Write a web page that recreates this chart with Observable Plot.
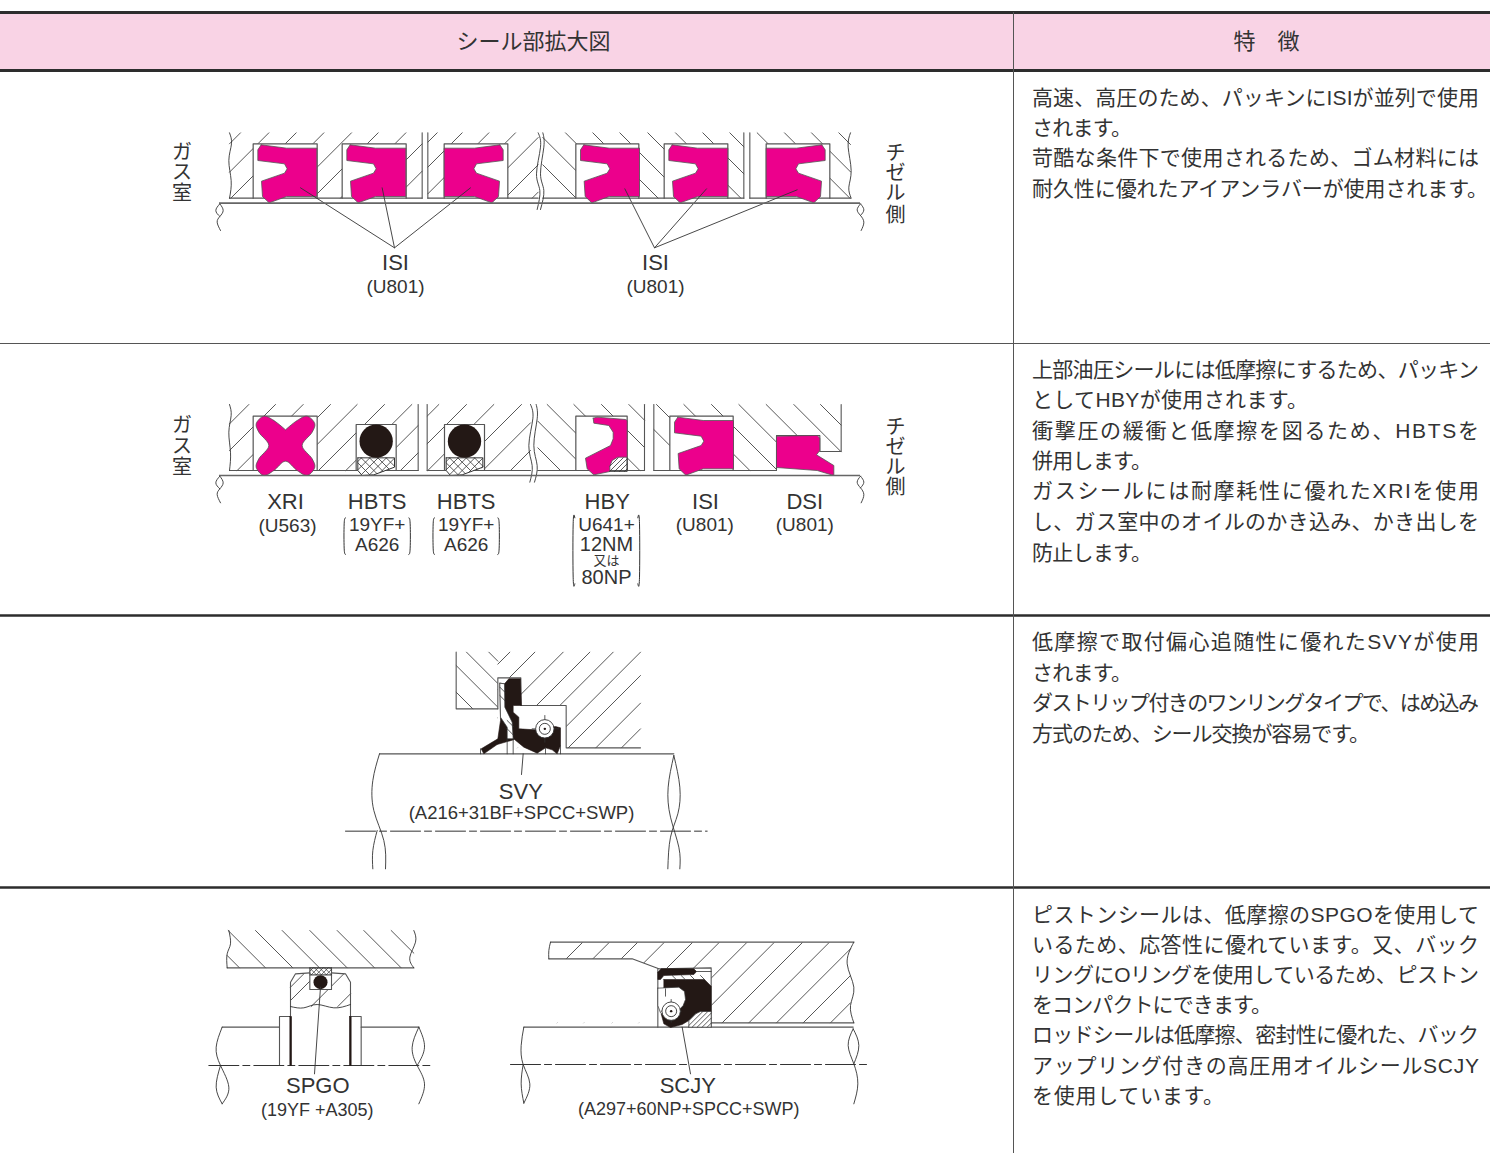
<!DOCTYPE html>
<html lang="ja">
<head>
<meta charset="utf-8">
<script src="https://cdn.jsdelivr.net/npm/d3@7"></script>
<script src="https://cdn.jsdelivr.net/npm/@observablehq/plot@0.6"></script>
<style>html,body{margin:0;padding:0;background:#fff}svg{display:block}</style>
</head>
<body>
<div id="chart"></div>
<script>
// Crop frames the drawing was read in: [left, top], units are 1/3 px
const Z1=[160,110],Z2=[530,110],Z3=[160,395],Z4=[530,395],Z5=[340,640],Z6=[200,920],Z7=[500,930],Z8=[440,670],Z9=[640,955];

const headerText=["シール部拡大図","特　徴"];
const headerX=[533,1266];

const featureLines=[
"高速、高圧のため、パッキンにISIが並列で使用","されます。","苛酷な条件下で使用されるため、ゴム材料には","耐久性に優れたアイアンラバーが使用されます。",
"上部油圧シールには低摩擦にするため、パッキン","としてHBYが使用されます。","衝撃圧の緩衝と低摩擦を図るため、HBTSを","併用します。","ガスシールには耐摩耗性に優れたXRIを使用","し、ガス室中のオイルのかき込み、かき出しを","防止します。",
"低摩擦で取付偏心追随性に優れたSVYが使用","されます。","ダストリップ付きのワンリングタイプで、はめ込み","方式のため、シール交換が容易です。",
"ピストンシールは、低摩擦のSPGOを使用して","いるため、応答性に優れています。又、バック","リングにOリングを使用しているため、ピストン","をコンパクトにできます。","ロッドシールは低摩擦、密封性に優れた、バック","アップリング付きの高圧用オイルシールSCJY","を使用しています。"];
const featureY=[98,128,158,189,370,400,431,461,491,522,553,642,673,703,734,915,945,975,1005,1035,1066,1096];
const featureW=[447,100,447,456,447,276,447,120,447,447,120,447,100,447,338,447,447,447,240,447,447,192];

const labelText=["ISI","(U801)","ISI","(U801)","XRI","(U563)","HBTS","19YF+","A626","HBTS","19YF+","A626","HBY","U641+","12NM","又は","80NP","ISI","(U801)","DSI","(U801)","SVY","(A216+31BF+SPCC+SWP)","SPGO","(19YF +A305)","SCJY","(A297+60NP+SPCC+SWP)"];
const labelX=[395,395,655,655,285,287,376.7,376.7,376.7,465.7,465.7,465.7,606.7,606,606,606,606,705,704.3,804.3,804.3,520.3,521,317.3,316.7,687.3,688.3];
const labelY=[262.7,286,262.7,286,501.7,525,501.7,524,544.3,501.7,524,544.3,501.7,524,544,560,576.7,501.7,524.3,501.7,524.3,791.7,812.3,1085.7,1109.3,1085.7,1108.3];
const labelSize=[22,19,22,19,22,19,22,19,19,22,19,19,22,19,20,13,20,22,19,22,19,22,18.5,22,18,22,18];

const sideText=["ガ","ス","室","チ","ゼ","ル","側","ガ","ス","室","チ","ゼ","ル","側"];
const sideX=[181.5,181.5,181.5,895,895,895,895,181.5,181.5,181.5,895,895,895,895];
const sideY=[152,172,193,153,173,193,215,425,446,467,427,447,467,487];

const ruleThick=[12,70,615,887];
const ruleThin=[343];
const shaftY=[202.7,475];

// Seal profile read from the ISI cross-section, relative to its gland corner
const isiProfile=[24,3,100,13,191,13,191,158,100,158,48,177,28,158,25,112,94,88,102,75,94,60,14,50,14,18];
const isiPlacement=[[Z1,278,100,0],[Z1,545,100,0],[Z1,851,100,1],[Z2,136,100,0],[Z2,401,100,0],[Z2,707,100,1],[Z4,418,62,0]];

const glands=[[Z1,278,470,100,263],[Z1,545,737,100,263],[Z1,851,1042,100,263],[Z2,136,325,100,263],[Z2,401,592,100,263],[Z2,707,898,100,263],
[Z3,278,470,62,225],[Z3,587,707,87,225],[Z3,852,972,87,225],[Z4,136,290,62,225],[Z4,418,608,62,225]];

const hatches=[
[Z1,[207,67,785,67,785,263,207,263],1,[307,392,474,557,640,720,803,885,967]],
[Z1,[802,67,1133,67,1133,263,802,263],1,[897,972,1052,1132,1214,1296,1378]],
[Z2,[37,67,640,67,640,263,37,263],-1,[-126,-44,38,120,201,285,368,450,531]],
[Z2,[658,67,960,67,960,263,658,263],-1,[613,695,776,858]],
[Z3,[207,27,773,27,773,225,207,225],1,[292,372,455,537,617,699,781,863,945]],
[Z3,[800,27,1110,27,1110,225,800,225],1,[862,945,1027,1110,1192,1275]],
[Z4,[22,27,342,27,342,225,22,225],-1,[-135,-55,23,103,186,268]],
[Z4,[370,27,932,27,932,225,370,225],-1,[145,268,351,433,516,598,680,763,843]],
[Z5,[347,35,472,35,472,205,347,205],-1,[192,272,343,410]],
[Z5,[472,35,900,35,900,322,472,322],1,[543,618,703,783,853,935,1005,1088,1165]],
[Z6,[80,30,640,30,640,142,80,142],-1,[-25,53,135,215,298,380,460,542]],
[Z6,[270,160,450,160,450,258,270,258],1,[470,510,590,670]],
[Z7,[145,37,1050,37,1050,277,145,277],1,[282,362,447,527,612,692,775,857,942,1022,1105,1185,1267]]
];

const whitePolys=[
[Z4,[738,120,868,120,868,168,932,168,932,240,738,240]],
[Z5,[472,112,541,112,541,195,677,195,677,322,472,322]],
[Z6,[328,142,393,142,393,207,328,207]],
[Z7,[140,85,395,85,475,115,632,112,632,277,140,277]]
];

const grayLines=[
[Z1,[207,263,785,263]],[Z1,[802,263,1133,263]],[Z1,[785,67,785,263]],[Z1,[802,67,802,263]],
[Z2,[37,263,640,263]],[Z2,[658,263,960,263]],[Z2,[640,67,640,263]],[Z2,[658,67,658,263]],
[Z3,[207,225,773,225]],[Z3,[800,225,1110,225]],[Z3,[773,27,773,225]],[Z3,[800,27,800,225]],
[Z4,[22,225,342,225]],[Z4,[370,225,738,225]],[Z4,[342,27,342,225]],[Z4,[370,27,370,225]],
[Z4,[932,27,932,168,868,168,868,120,738,120,738,225]],
[Z5,[347,35,347,205,472,205]],[Z5,[472,205,472,112,541,112,541,195,677,195,677,322,900,322]],
[Z5,[117,340,1000,340]],
[Z6,[80,142,640,142]],[Z6,[328,142,328,207,393,207,393,142]],[Z6,[328,163,393,163]],
[Z6,[270,430,270,185,285,160,328,157]],[Z6,[393,157,435,160,450,185,450,430]],
[Z6,[65,320,237,320]],[Z6,[237,435,237,288,270,288]],[Z6,[450,288,482,288,482,435]],[Z6,[482,320,655,320]],
[Z7,[150,35,1060,35]],[Z7,[145,85,395,85,475,115,632,112,632,277,1060,277]],[Z7,[70,290,1058,290]],
[Z7,[472,115,472,290]],[Z7,[632,277,632,290]]
];

const curves=[
[Z1,[207,67,213,100,205,150,212,210,207,263]],
[Z1,[1133,67,1140,110,1128,190,1138,240,1130,297]],[Z1,[1147,67,1150,110,1140,190,1150,240,1140,297]],
[Z1,[178,280,188,300,178,318,170,335,180,360]],[Z1,[178,280,166,300,178,318]],
[Z2,[960,67,953,110,962,180,955,230,962,263]],
[Z2,[990,280,980,298,990,315,1000,335,992,360]],[Z2,[990,280,1000,298,990,315]],
[Z3,[207,27,212,60,205,110,210,170,207,225]],
[Z3,[1110,27,1117,70,1105,150,1115,210,1108,260]],[Z3,[1127,27,1130,70,1120,150,1130,210,1122,260]],
[Z3,[178,242,188,262,178,280,170,297,180,322]],[Z3,[178,242,166,262,178,280]],
[Z4,[990,242,980,260,990,277,1000,297,992,322]],[Z4,[990,242,1000,260,990,277]],
[Z5,[117,340,97,420,100,510,130,600,135,685]],[Z5,[110,570,97,630,97,685]],
[Z5,[1000,345,983,440,990,530,1015,620,1018,685]],[Z5,[1000,345,1018,440,1012,520,990,590,982,685]],
[Z6,[85,30,90,70,80,100,80,142]],[Z6,[640,30,645,65,628,110,640,142]],
[Z6,[270,258,310,262,350,252,400,262,450,252]],
[Z6,[65,320,47,380,60,435,85,500,65,550]],[Z6,[60,435,47,500,65,550]],
[Z6,[655,320,635,380,650,435,672,490,655,550]],[Z6,[655,320,672,380,650,435]],
[Z7,[150,35,145,60,145,85]],[Z7,[1060,35,1040,100,1060,170,1050,225,1060,277]],
[Z7,[70,290,62,345,68,402,88,460,70,518]],[Z7,[68,402,62,460,70,518]],
[Z7,[1058,295,1043,345,1060,400,1072,460,1060,520]],[Z7,[1058,295,1075,345,1060,400]]
];

const brackets=[
[Z3,[555,367,551,385,551,458,555,477]],[Z3,[745,367,749,385,749,458,745,477]],
[Z3,[822,367,818,385,818,458,822,477]],[Z3,[1012,367,1016,385,1016,458,1012,477]],
[Z4,[133,367,128,385,128,545,133,565]],[Z4,[322,367,327,385,327,545,322,565]]
];

const leaders=[
[Z1,[420,232,702,412,665,232]],[Z1,[702,412,930,232]],
[Z2,[283,235,372,412,528,235]],[Z2,[372,412,800,238]],
[Z5,[548,340,543,402]],[Z6,[360,200,342,460]],[Z7,[545,290,570,430]]
];

const pinkPolys=[
[Z4,[188,68,200,65,285,72,290,75,290,185,262,185,245,195,238,212,238,228,190,238,170,220,165,188,240,150,248,130,248,110,235,90,190,83]],
[Z4,[738,122,860,120,868,128,868,165,858,178,910,210,910,240,860,225,738,216]]
];
const xriProfile=[375,103,340,75,310,62,287,85,295,110,325,150,295,190,287,215,310,240,340,225,375,197,410,225,440,240,463,215,455,190,425,150,455,110,463,85,440,62,410,75];

const blackPolys=[
[Z8,[192,40,205,25,240,25,243,105,218,105,218,125,235,140,235,175,285,178,345,168,360,172,360,225,350,250,335,238,315,232,290,248,250,230,222,207,170,222,130,250,122,235,172,205,180,150,178,38]],
[Z9,[52,50,62,40,160,40,168,48,160,57,70,60,60,72,52,72]],
[Z9,[70,72,192,72,212,92,212,170,175,170,150,192,125,207,90,216,70,205,62,175,70,170]],
[Z6,[268,288,273,288,273,435,268,435]],[Z6,[447,288,452,288,452,435,447,435]]
];
const sealWhite=[
[Z8,[178,38,192,40,193,110,215,155,218,205,200,205,200,170,180,140]],
[Z9,[52,98,115,95,132,108,135,132,128,150,108,172,100,186,78,186,60,172,52,150]],
[Z9,[145,215,145,195,165,175,180,168,212,168,212,215]]
];
const sealHatches=[
[Z8,[178,40,193,40,193,115,178,115],-1,[103,128]],
[Z8,[198,150,218,150,218,205,198,205],-1,[25,50]],
[Z9,[145,215,145,195,165,175,180,168,212,168,212,215],1,[340,355,370,385,400,415]],
[Z9,[75,60,195,60,195,72,75,72],-1,[35,62,90,120]],
[Z4,[238,228,238,208,255,187,290,187,290,228],1,[450,465,480,495,510]]
];
const crossPoly=[592,187,702,187,702,215,640,238,605,240,592,225];
const crossA=[790,815,840,865,890,915,940];
const crossB=[365,390,415,440,465,490];
const sealThin=[
[Z8,[120,235,120,250]],[Z8,[200,205,200,250]],[Z8,[218,205,218,250]],[Z8,[315,232,315,250]],[Z8,[360,225,360,250]],
[Z8,[313,135,313,215]],[Z8,[275,175,355,175]],
[Z9,[168,48,212,48]],[Z9,[75,100,75,122]],
[Z9,[92,132,92,200]],[Z9,[62,167,122,167]],
[Z4,[238,228,290,228,290,187]],
[Z6,[328,142,393,142]]
];
const grooveCross=[[Z6,[328,142,393,142,393,163,328,163],1,[480,495,510,525,540,555]],[Z6,[328,142,393,142,393,163,328,163],-1,[170,185,200,215,230,245]]];

const oRings=[[Z3,647,137,50],[Z3,912,137,50],[Z6,360,185,21]];
const springs=[[Z8,313,175],[Z9,92,167]];
const centerLines=[[Z5,[15,572,1100,572]],[Z6,[25,435,698,435]],[Z7,[30,402,1105,402]]];

// helpers: crop units -> picture units
const toPage=(o,x,y)=>({x:o[0]+x/3,y:o[1]+y/3});
const pts=(o,f)=>d3.range(0,f.length,2).map(i=>toPage(o,f[i],f[i+1]));
let nid=0;
const table=list=>list.flatMap(([o,f])=>{const id=nid++;return pts(o,f).map(p=>({...p,id}));});
const closed=list=>list.map(([o,f])=>[o,[...f,f[0],f[1]]]);
function hatchSeg(o,f,dir,cs){
  const poly=d3.range(0,f.length,2).map(i=>[f[i],f[i+1]]);
  const area=d3.polygonArea(poly),out=[];
  for(const c of cs){
    const d=dir>0?[1,-1]:[1,1];let t0=-1e6,t1=1e6,ok=true;
    poly.forEach((a,i)=>{
      const b=poly[(i+1)%poly.length];
      const n=area<0?[-(b[1]-a[1]),b[0]-a[0]]:[b[1]-a[1],-(b[0]-a[0])];
      const den=n[0]*d[0]+n[1]*d[1],num=n[0]*(a[0]-c)+n[1]*a[1];
      if(Math.abs(den)<1e-9){if(num>0)ok=false;return;}
      const t=num/den;
      if(den>0)t0=Math.max(t0,t);else t1=Math.min(t1,t);
    });
    if(ok&&t1>t0)out.push([o,[c+t0*d[0],t0*d[1],c+t1*d[0],t1*d[1]]]);
  }
  return out;
}
const hatchList=l=>l.flatMap(([o,f,d,c])=>hatchSeg(o,f,d,c));

const isiList=isiPlacement.map(([o,bx,by,m])=>[o,isiProfile.flatMap((v,i)=>i%2?[v+by]:[(m?191-v:v)+bx])]);
const glandFill=glands.map(([o,l,r,t,b])=>[o,[l,t,r,t,r,b+15,l,b+15]]);
const glandLine=glands.map(([o,l,r,t,b])=>[o,[l,b,l,t,r,t,r,b]]);
const crossList=[...hatchSeg(Z3,crossPoly,1,crossA),...hatchSeg(Z3,crossPoly,-1,crossB),
  ...hatchSeg([Z3[0]+265/3,Z3[1]],crossPoly,1,crossA),...hatchSeg([Z3[0]+265/3,Z3[1]],crossPoly,-1,crossB)];
const crossBack=[[Z3,crossPoly],[[Z3[0]+265/3,Z3[1]],crossPoly]];

const ink="#333",gray="#555",bk="#231815",pink="#ec008c";
const L=(list,o={})=>Plot.line(table(list),{x:"x",y:"y",z:"id",stroke:gray,strokeWidth:1,fill:"none",...o});

const labels=labelText.map((t,i)=>({t,x:labelX[i],y:labelY[i],s:labelSize[i]}));
const features=featureLines.map((t,i)=>({t,y:featureY[i]}));
const sides=sideText.map((t,i)=>({t,x:sideX[i],y:sideY[i]}));
const ringData=oRings.map(([o,x,y,r])=>({...toPage(o,x,y),r:r/3}));
const springData=springs.map(([o,x,y])=>toPage(o,x,y));

const chart=Plot.plot({
  width:1490,height:1153,margin:0,
  x:{domain:[0,1490],axis:null},
  y:{domain:[1153,0],axis:null},
  r:{type:"identity"},
  style:{fontFamily:'"Liberation Sans","Noto Sans CJK JP",sans-serif',background:"#fff"},
  marks:[
    Plot.rect([0],{x1:()=>0,x2:()=>1490,y1:()=>12,y2:()=>70,fill:"#f9d3e5"}),
    Plot.ruleY(ruleThick,{x1:0,x2:1490,stroke:"#2d2d2d",strokeWidth:d=>d<100?3:2.6}),
    Plot.ruleY(ruleThin,{x1:0,x2:1490,stroke:"#555",strokeWidth:1}),
    Plot.ruleX([1013],{y1:12,y2:1153,stroke:"#555",strokeWidth:1}),
    L(hatchList(hatches),{stroke:"#444",strokeWidth:.9}),
    L(closed(glandFill),{fill:"#fff",stroke:"none"}),
    L(closed(whitePolys),{fill:"#fff",stroke:"none"}),
    L(grayLines,{strokeWidth:1.1}),
    L(glandLine,{strokeWidth:1.2}),
    L(curves,{curve:"natural",stroke:"#333",strokeWidth:.9}),
    L(centerLines,{stroke:"#333",strokeDasharray:"30,4,7,4"}),
    L(closed(isiList),{fill:pink,stroke:"#555",strokeWidth:.8}),
    L(closed(pinkPolys),{fill:pink,stroke:"#555",strokeWidth:.8}),
    L([[Z3,[...xriProfile,xriProfile[0],xriProfile[1]]]],{fill:pink,stroke:"#555",strokeWidth:.8,curve:"catmull-rom-closed"}),
    L(closed(crossBack),{fill:"#fff",stroke:"#333",strokeWidth:1}),
    L(crossList,{stroke:"#333",strokeWidth:.8}),
    L(hatchList(grooveCross),{stroke:"#333",strokeWidth:.7}),
    Plot.dot(ringData,{x:"x",y:"y",r:"r",fill:bk,stroke:"none"}),
    L(closed(blackPolys),{fill:bk,stroke:bk,strokeWidth:.6}),
    L(closed(sealWhite),{fill:"#fff",stroke:"#333",strokeWidth:.7}),
    L(hatchList(sealHatches),{stroke:"#333",strokeWidth:.8}),
    L(sealThin,{stroke:"#333",strokeWidth:.8}),
    Plot.dot(springData,{x:"x",y:"y",r:()=>9.2,fill:"#fff",stroke:"#333",strokeWidth:.9}),
    Plot.dot(springData,{x:"x",y:"y",r:()=>5.5,fill:"#fff",stroke:"#333",strokeWidth:.9}),
    Plot.dot(springData,{x:"x",y:"y",r:()=>1.2,fill:bk}),
    L(leaders,{stroke:"#333",strokeWidth:.9}),
    L(brackets,{curve:"natural",stroke:"#333",strokeWidth:1}),
    Plot.ruleY(shaftY,{x1:219,x2:860,stroke:"#666",strokeWidth:1.7}),
    Plot.text(headerText,{x:(d,i)=>headerX[i],y:()=>41,text:d=>d,fontSize:22,fill:ink}),
    Plot.text(sides,{x:"x",y:"y",text:"t",fontSize:20,fill:ink}),
    Plot.text(labels,{x:"x",y:"y",text:"t",fontSize:"s",fill:ink}),
    Plot.text(features,{x:()=>1031.5,y:"y",text:"t",fontSize:21,fill:ink,textAnchor:"start",className:"feature"})
  ]
});
document.getElementById("chart").append(chart);
d3.select(chart).selectAll(".feature text").each(function(_,i){
  this.setAttribute("textLength",featureW[i]);
  this.setAttribute("lengthAdjust","spacing");
});
</script>
</body>
</html>
